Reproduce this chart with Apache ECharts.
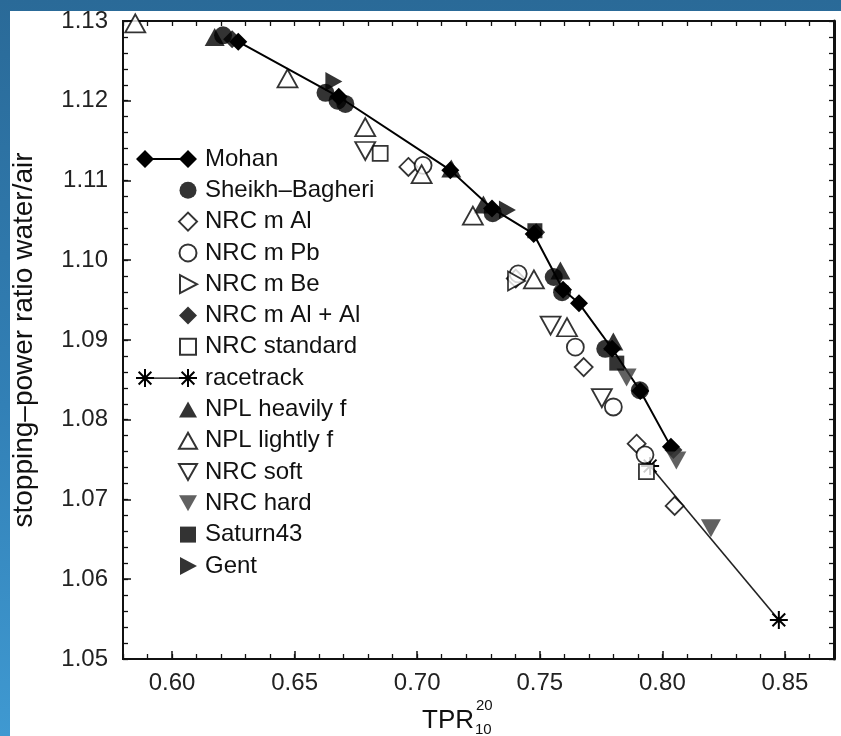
<!DOCTYPE html>
<html>
<head>
<meta charset="utf-8">
<script src="https://cdn.jsdelivr.net/npm/echarts@6/dist/echarts.min.js"></script>
<style>
  html, body { margin: 0; padding: 0; }
  #wrap { position: relative; width: 841px; height: 736px; overflow: hidden;
    background: linear-gradient(180deg, #2a6a98 0%, #3280b6 55%, #3f99d1 100%); }
  #paper { position: absolute; left: 10px; top: 11px; right: 0; bottom: 0; background: #fff; }
  #chart { position: absolute; left: 0; top: 0; width: 841px; height: 736px; }
</style>
</head>
<body>
<div id="wrap"><div id="paper"></div><div id="chart"></div></div>
<script>
// axis ranges and labelled ticks
const xMin = 0.58, xMax = 0.87
const yMin = 1.05, yMax = 1.13
const xMajor = [0.60, 0.65, 0.70, 0.75, 0.80, 0.85]
const yMajor = [1.05, 1.06, 1.07, 1.08, 1.09, 1.10, 1.11, 1.12, 1.13]

// points: [TPR, stopping-power ratio]
const mohan = [[0.627, 1.1274], [0.668, 1.1205], [0.7135, 1.1113], [0.7305, 1.1065], [0.7475, 1.1033],
  [0.7595, 1.0963], [0.766, 1.0946], [0.7795, 1.0889], [0.791, 1.0836], [0.8035, 1.0766]]
const sheikhBagheri = [[0.6208, 1.1282], [0.6626, 1.1210], [0.6675, 1.1200], [0.6707, 1.1196], [0.7308, 1.1059],
  [0.7557, 1.0979], [0.7591, 1.0960], [0.7767, 1.0889], [0.7908, 1.0837]]
const nrcMAl = [[0.6964, 1.1117], [0.7402, 1.0977], [0.7679, 1.0866], [0.7895, 1.0770], [0.8050, 1.0692]]
const nrcMPb = [[0.7024, 1.1119], [0.7412, 1.0983], [0.7645, 1.0891], [0.7800, 1.0816], [0.7929, 1.0756]]
const nrcMBe = [[0.7405, 1.0974]]
const nrcMAlAl = [[0.6245, 1.1277], [0.7485, 1.1035], [0.8045, 1.0762]]
const nrcStandard = [[0.6849, 1.1134], [0.7935, 1.0735]]
const racetrack = [[0.7950, 1.0742], [0.8475, 1.0549]]
const nplHeavily = [[0.6174, 1.1280], [0.7139, 1.1115], [0.7270, 1.1070], [0.7584, 1.0987], [0.7800, 1.0898]]
const nplLightly = [[0.5850, 1.1297], [0.6471, 1.1228], [0.6788, 1.1167], [0.7018, 1.1108], [0.7227, 1.1056],
  [0.7476, 1.0976], [0.7611, 1.0916]]
const nrcSoft = [[0.6788, 1.1137], [0.7544, 1.0918], [0.7753, 1.0827]]
const nrcHard = [[0.7854, 1.0853], [0.8057, 1.0749], [0.8198, 1.0664]]
const saturn43 = [[0.7480, 1.1037], [0.7814, 1.0871]]
const gent = [[0.6660, 1.1224], [0.7368, 1.1063]]

const font = "'Liberation Sans', Arial, Helvetica, sans-serif"

// asterisk drawn as four thin bars
function starPath(cx) {
  const d = 6.36, t = 0.707
  return `M${cx - 9},8 L${cx + 9},8 L${cx + 9},10 L${cx - 9},10 Z ` +
    `M${cx - 1},0 L${cx + 1},0 L${cx + 1},18 L${cx - 1},18 Z ` +
    `M${cx - d - t},${9 - d + t} L${cx - d + t},${9 - d - t} L${cx + d + t},${9 + d - t} L${cx + d - t},${9 + d + t} Z ` +
    `M${cx + d - t},${9 - d - t} L${cx + d + t},${9 - d + t} L${cx - d + t},${9 + d + t} L${cx - d - t},${9 + d - t} Z`
}

// legend icons live in a 61x18 box, single symbols sit at its right end
const box = 'M0,0 L0,0 M61,18 L61,18 '
const icons = {
  mohan: 'path://M0,9 L9,0 L18,9 L9,18 Z M43,9 L52,0 L61,9 L52,18 Z M9,8 L52,8 L52,10 L9,10 Z',
  race: 'path://' + starPath(9) + ' ' + starPath(52) + ' M9,8.4 L52,8.4 L52,9.6 L9,9.6 Z',
  circle: 'path://' + box + 'M60.5,9 A8.5,8.5 0 1,1 43.5,9 A8.5,8.5 0 1,1 60.5,9 Z',
  diamond: 'path://' + box + 'M43,9 L52,0 L61,9 L52,18 Z',
  right: 'path://' + box + 'M44,0 L61,9 L44,18 Z',
  up: 'path://' + box + 'M52,1 L61,17 L43,17 Z',
  down: 'path://' + box + 'M43,1 L61,1 L52,17 Z',
  square: 'path://' + box + 'M44,1 L60,1 L60,17 L44,17 Z'
}

const filled = { color: '#000', borderWidth: 0 }
const open = { color: '#fff', borderColor: '#000', borderWidth: 1.8 }

function scatter(name, data, symbol, size, style, rotate) {
  return {
    name: name, type: 'scatter', data: data, symbol: symbol, symbolSize: size,
    symbolRotate: rotate || 0, itemStyle: style, clip: false, z: 3
  }
}

const series = [
  {
    name: 'Mohan', type: 'line', data: mohan, symbol: 'diamond', symbolSize: 18, showSymbol: true,
    itemStyle: filled, lineStyle: { color: '#000', width: 2 }, z: 2
  },
  scatter('Sheikh–Bagheri', sheikhBagheri, 'circle', 18, filled),
  scatter('NRC m Al', nrcMAl, 'diamond', 18, open),
  scatter('NRC m Pb', nrcMPb, 'circle', 17, open),
  scatter('NRC m Be', nrcMBe, 'triangle', [19, 17], open, -90),
  scatter('NRC m Al + Al', nrcMAlAl, 'diamond', 18, filled),
  scatter('NRC standard', nrcStandard, 'rect', 15, open),
  {
    name: 'racetrack', type: 'line', data: racetrack, symbol: 'path://' + starPath(9), symbolSize: 18,
    showSymbol: true, itemStyle: filled, lineStyle: { color: '#222', width: 1.6 }, z: 2
  },
  scatter('NPL heavily f', nplHeavily, 'triangle', [20, 18], filled),
  scatter('NPL lightly f', nplLightly, 'triangle', [20, 18], open),
  scatter('NRC soft', nrcSoft, 'triangle', [20, 18], open, 180),
  scatter('NRC hard', nrcHard, 'triangle', [20, 18], { color: '#3a3a3a', borderWidth: 0 }, 180),
  scatter('Saturn43', saturn43, 'rect', 15, filled),
  scatter('Gent', gent, 'triangle', [19, 17], filled, -90)
]

const legendIcons = [icons.mohan, icons.circle, icons.diamond, icons.circle, icons.right, icons.diamond,
  icons.square, icons.race, icons.up, icons.up, icons.down, icons.down, icons.square, icons.right]

const isMajor = (v, major) => major.some(m => Math.abs(m - v) < 1e-6)

// one axis per side, ticks every minor step, labels only at the major values
function frameAxis(dim, position, min, max, major, step, withLabels) {
  return {
    type: 'value', position: position, min: min, max: max, interval: step,
    axisLine: { show: true, onZero: false, lineStyle: { color: '#111', width: position === 'right' ? 3 : 2 } },
    axisTick: { show: true, inside: true, length: 5, lineStyle: { color: '#111', width: 1.3 } },
    axisLabel: {
      show: true, fontSize: 24, color: '#222', fontFamily: font,
      margin: withLabels ? (dim === 'x' ? 12 : 15) : 4,
      showMinLabel: true, showMaxLabel: true,
      formatter: v => (withLabels && isMajor(v, major)) ? v.toFixed(2) : ''
    },
    splitLine: { show: false }
  }
}

// longer ticks at the labelled values
function majorAxis(position, min, max, major) {
  return {
    type: 'value', position: position, min: min, max: max,
    axisLine: { show: true, onZero: false, lineStyle: { color: '#111', width: 2 } },
    axisTick: { show: true, inside: true, length: 8, customValues: major, lineStyle: { color: '#111', width: 1.5 } },
    axisLabel: { show: true, customValues: major, formatter: () => '' },
    splitLine: { show: false }
  }
}

const xAxes = [frameAxis('x', 'bottom', xMin, xMax, xMajor, 0.01, true), frameAxis('x', 'top', xMin, xMax, xMajor, 0.01, false),
  majorAxis('bottom', xMin, xMax, xMajor)]
const yAxes = [frameAxis('y', 'left', yMin, yMax, yMajor, 0.002, true), frameAxis('y', 'right', yMin, yMax, yMajor, 0.002, false),
  majorAxis('left', yMin, yMax, yMajor)]
yAxes[0].name = 'stopping–power ratio water/air'
yAxes[0].nameLocation = 'middle'
yAxes[0].nameRotate = 90
yAxes[0].nameGap = 85
yAxes[0].nameTextStyle = { fontSize: 28, color: '#111', fontFamily: font }

const chart = echarts.init(document.getElementById('chart'), null, { renderer: 'canvas' })
chart.setOption({
  animation: false,
  backgroundColor: 'transparent',
  grid: { left: 123, top: 21, right: 5, bottom: 77 },
  xAxis: xAxes,
  yAxis: yAxes,
  legend: {
    orient: 'vertical', left: 130, top: 142, itemWidth: 61, itemHeight: 18, itemGap: 7.3,
    selectedMode: false,
    textStyle: { fontSize: 24, color: '#111', fontFamily: font, padding: [0, 0, 0, 3] },
    data: series.map((s, i) => ({ name: s.name, icon: legendIcons[i] }))
  },
  graphic: [
    { type: 'text', x: 448, y: 721, style: { text: 'TPR', fontSize: 26, fontFamily: font, fill: '#111', align: 'center', verticalAlign: 'middle' } },
    { type: 'text', x: 476, y: 706, style: { text: '20', fontSize: 15, fontFamily: font, fill: '#111', align: 'left', verticalAlign: 'middle' } },
    { type: 'text', x: 475, y: 730, style: { text: '10', fontSize: 15, fontFamily: font, fill: '#111', align: 'left', verticalAlign: 'middle' } }
  ],
  series: series
})
</script>
</body>
</html>
